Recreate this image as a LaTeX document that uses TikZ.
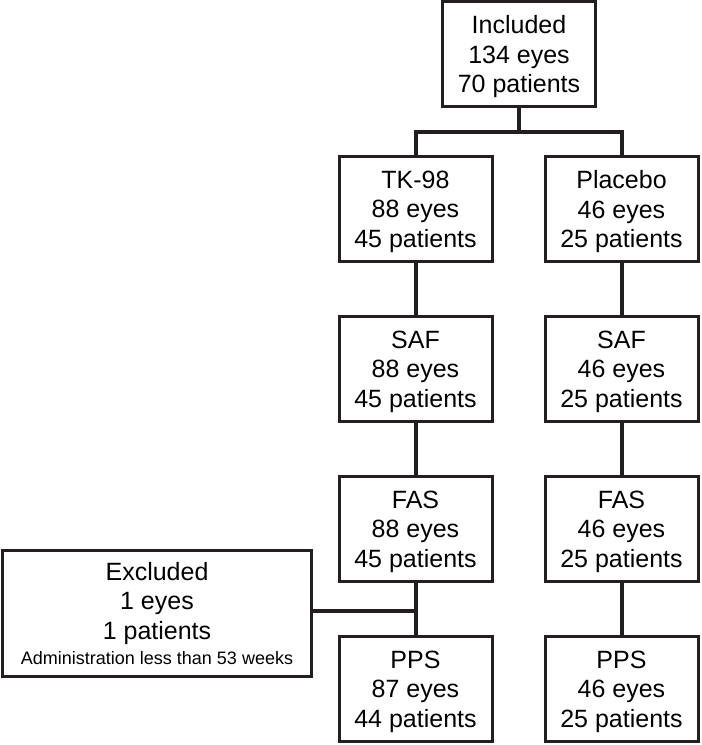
\documentclass[tikz,border=0pt]{standalone}
\usepackage{fontspec}
\setmainfont{Liberation Sans}
\usepackage{tikz}
\usetikzlibrary{positioning,calc}
\definecolor{lineGray}{HTML}{231F20}

\begin{document}
\begin{tikzpicture}[
    node distance=52pt,
    font=\fontsize{25}{29.5}\selectfont,
    frame/.style={draw=lineGray, line width=3pt, rectangle, align=center, inner sep=0pt},
    box/.style={frame, minimum width=153pt, minimum height=105pt, text depth=-2pt},
    exbox/.style={frame, minimum width=309pt, minimum height=126pt},
    link/.style={draw=lineGray, line width=4pt}
]
    \useasboundingbox (0,0) rectangle (702pt,-745pt);

    \node[box] (incl) at (519pt,-54pt) {Included\\134 eyes\\70 patients};
    \node[box] (tk) at (415.5pt,-209pt) {TK-98\\88 eyes\\45 patients};
    \node[box, right=50pt of tk] (plac) {Placebo\\46 eyes\\25 patients};

    \node[box, below=of tk] (safA) {SAF\\88 eyes\\45 patients};
    \node[box, below=of plac] (safB) {SAF\\46 eyes\\25 patients};
    \node[box, below=of safA] (fasA) {FAS\\88 eyes\\45 patients};
    \node[box, below=of safB] (fasB) {FAS\\46 eyes\\25 patients};
    \node[box, below=of fasA] (ppsA) {PPS\\87 eyes\\44 patients};
    \node[box, below=of fasB] (ppsB) {PPS\\46 eyes\\25 patients};

    \node[exbox] (excl) at (157pt,-613.5pt) {Excluded\\1 eyes\\1 patients\\[-4pt]{\fontsize{18}{22}\selectfont Administration less than 53 weeks}};

    % split to the two arms
    \coordinate (split) at ($(incl.south)!0.5!(incl.south |- tk.north)$);
    \draw[link] (incl.south) -- (split);
    \draw[link] (tk.north) |- (split) -| (plac.north);

    \draw[link] (tk) -- (safA);
    \draw[link] (safA) -- (fasA);
    \draw[link] (fasA) -- (ppsA);
    \draw[link] (plac) -- (safB);
    \draw[link] (safB) -- (fasB);
    \draw[link] (fasB) -- (ppsB);

    \draw[link] ([yshift=3pt]excl.east) -- ([yshift=3pt]excl.east -| fasA.south);
\end{tikzpicture}
\end{document}
